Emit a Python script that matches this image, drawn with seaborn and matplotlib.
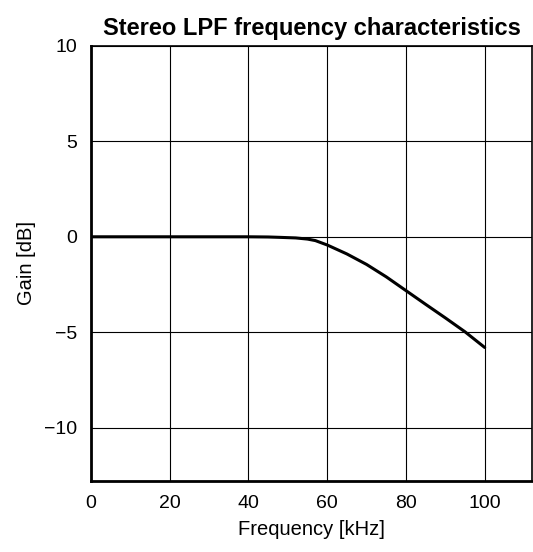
import numpy as np
import pandas as pd
import matplotlib
matplotlib.use("Agg")
import matplotlib.pyplot as plt
import seaborn as sns

# data
freq_khz = [0, 10, 20, 30, 40, 45, 48, 52, 55, 57, 60, 65, 70, 75, 80, 85, 90, 95, 100]
gain_db = [0.0, 0.0, 0.0, 0.0, 0.0, -0.01, -0.03, -0.06, -0.12, -0.2, -0.43, -0.9,
           -1.45, -2.1, -2.82, -3.54, -4.25, -4.98, -5.8]

x_ticks = [0, 20, 40, 60, 80, 100]
y_ticks = [-10, -5, 0, 5, 10]

df = pd.DataFrame({"freq": freq_khz, "gain": gain_db})

sns.set_style("white")
plt.rcParams["font.family"] = ["Liberation Sans", "DejaVu Sans"]
plt.rcParams["text.color"] = "black"
plt.rcParams["axes.labelcolor"] = "black"
plt.rcParams["xtick.color"] = "black"
plt.rcParams["ytick.color"] = "black"

fig = plt.figure(figsize=(5.33, 5.52), dpi=100)
ax = fig.add_axes([0.1707, 0.1286, 0.8273, 0.7881])

sns.lineplot(data=df, x="freq", y="gain", color="black", linewidth=2.2, ax=ax)

ax.set_xlim(0, 112)
ax.set_ylim(-12.8, 10)
ax.set_xticks(x_ticks)
ax.set_yticks(y_ticks)
ax.set_yticklabels([str(v).replace("-", "\u2212") for v in y_ticks])
ax.grid(True, color="black", linewidth=0.8)
ax.tick_params(length=0, labelsize=14, pad=10)
for s in ax.spines.values():
    s.set_color("black")
    s.set_linewidth(1.2)
ax.spines["left"].set_linewidth(2)
ax.spines["bottom"].set_linewidth(2)

ax.set_xlabel("Frequency [kHz]", fontsize=14.5, labelpad=6)
ax.set_ylabel("Gain [dB]", fontsize=14.5, labelpad=6)
ax.set_title("Stereo LPF frequency characteristics", fontsize=17, fontweight="bold", pad=8)

fig.savefig("out.png", dpi=100)
